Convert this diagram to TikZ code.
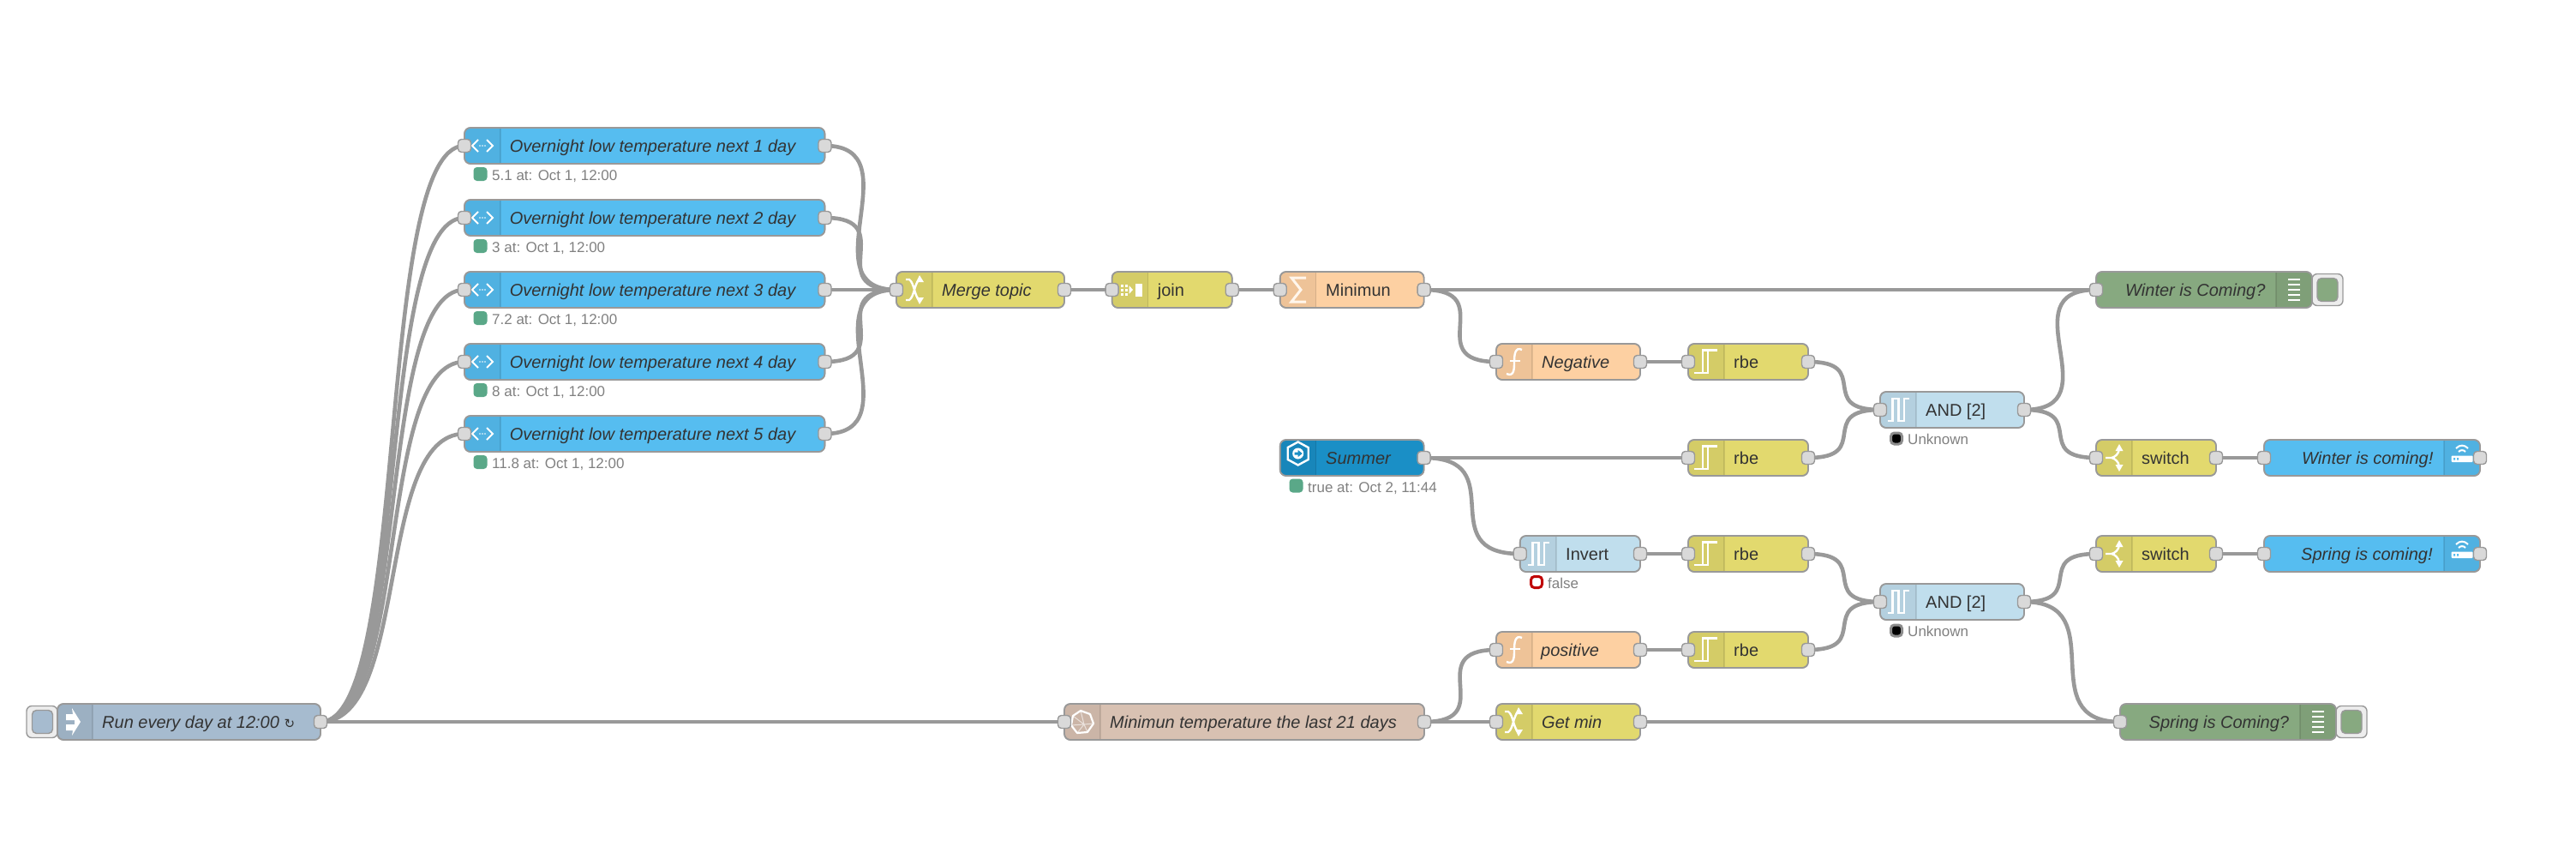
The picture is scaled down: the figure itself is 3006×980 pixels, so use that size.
\documentclass[tikz,border=0pt]{standalone}
\usepackage{fontspec}
\setmainfont{Liberation Sans}
\newfontfamily\symbfont{DejaVu Sans}
\usetikzlibrary{calc}
\pgfdeclarelayer{wires}
\pgfsetlayers{wires,main}
\definecolor{cblue}{HTML}{56BDF0}
\definecolor{cyel}{HTML}{E2D96E}
\definecolor{corg}{HTML}{FDD0A2}
\definecolor{cand}{HTML}{C0DEED}
\definecolor{cdbg}{HTML}{87A980}
\definecolor{cinj}{HTML}{A6BBCF}
\definecolor{cbrn}{HTML}{D8C1B2}
\definecolor{csum}{HTML}{1A8FC6}
\definecolor{cwire}{HTML}{999999}
\definecolor{cgrn}{HTML}{5AA888}
\definecolor{ctxt}{HTML}{333333}
\tikzset{
  wire/.style={draw=cwire,line width=4.6pt},
  flowbody/.style={draw=cwire,line width=1.6pt,rounded corners=7pt,inner sep=0pt,outer sep=0pt,minimum height=42pt},
  port/.style={draw=cwire,fill=black!15,line width=1.4pt,rounded corners=4pt,inner sep=0pt,minimum width=15pt,minimum height=15pt},
  lab/.style={anchor=base west,inner sep=0pt,text=ctxt,font=\fontsize{20}{24}\selectfont},
  labit/.style={lab,font=\fontsize{20}{24}\selectfont\itshape},
  stat/.style={anchor=base west,inner sep=0pt,text=black!50,font=\fontsize{17}{20}\selectfont},
  statdot/.style={inner sep=0pt,minimum width=16pt,minimum height=16pt,rounded corners=4pt,fill=cgrn},
  btnouter/.style={draw=cwire,fill=black!7,line width=1.4pt,rounded corners=6pt,inner sep=0pt,outer sep=0pt,minimum height=37pt,minimum width=36pt},
  btninner/.style={draw=cwire,line width=1.4pt,rounded corners=5pt,inner sep=0pt,minimum width=24pt,minimum height=27pt},
  ico/.style={draw=white,line width=2.6pt,line join=miter},
  icofill/.style={fill=white,draw=none},
}
% name, x1, x2, cy, panel from, panel to, colour
\newcommand\flow[7]{%
  \node[flowbody,fill=#7,minimum width={(#3-#2)*1pt}] (#1) at ({(#2+#3)/2},#4) {};
  \begin{scope}
    \clip[rounded corners=7pt] (#2,#4-21) rectangle (#3,#4+21);
    \fill[black,opacity=.06] (#5,#4-21) rectangle (#6,#4+21);
    \draw[black,opacity=.1,line width=1.3pt] ({#5==#2?#6:#5},#4-21) -- ++(0,42);
  \end{scope}
  \draw[cwire,line width=1.6pt,rounded corners=7pt] (#2,#4-21) rectangle (#3,#4+21);
}
\newcommand\pin[1]{\node[port] (#1-in) at (#1.west) {};}
\newcommand\pout[1]{\node[port] (#1-out) at (#1.east) {};}
\newcommand\wire[2]{\draw[wire] let \p1=(#1-out.center),\p2=(#2-in.center),
  \n1={veclen(\x2-\x1,\y2-\y1)},\n2={0.75*min(\n1,140pt)} in
  (\p1) .. controls (\x1+\n2,\y1) and (\x2-\n2,\y2) .. (\p2);}
% icons: centre x, centre y
\newcommand\icoinject[2]{\begin{scope}[shift={(#1,#2)}]
  \fill[icofill] (-9,-9) -- (-1,-9) -- (-2,-16) -- (8,0) -- (-2,16) -- (-1,10) -- (-9,10) -- (-9,3) -- (1,3) -- (1,-2) -- (-9,-2) -- cycle;
\end{scope}}
\newcommand\icohttp[2]{\begin{scope}[shift={(#1,#2)}]
  \draw[ico,line width=2pt] (-5,-7) -- (-12,0) -- (-5,7) (5,-7) -- (12,0) -- (5,7);
  \foreach \d in {-3,0,3} \fill[white] (\d,0) circle (.9);
\end{scope}}
\newcommand\icoshuffle[2]{\begin{scope}[shift={(#1,#2)}]
  \draw[ico,line width=2.4pt] (-10,-12) -- (-6,-12) .. controls (0,-8) and (0,8) .. (6,12) (-10,12) -- (-6,12) .. controls (0,8) and (0,-8) .. (6,-12);
  \fill[icofill] (6,-17) -- (11,-9) -- (2,-9) -- cycle (6,17) -- (11,9) -- (2,9) -- cycle;
\end{scope}}
\newcommand\icojoin[2]{\begin{scope}[shift={(#1,#2)}]
  \foreach \a in {-12,-7} \foreach \b in {-6,-1,4} \fill[white] (\a,\b) rectangle ++(3,3);
  \fill[icofill] (-2.5,-5) -- (2,0) -- (-2.5,5) -- cycle;
  \fill[icofill] (5,-7.5) rectangle (12.5,7.5);
\end{scope}}
\newcommand\icosigma[2]{\begin{scope}[shift={(#1,#2)}]
  \draw[ico,line width=3pt,draw=white!80!corg] (9,-14) -- (-8,-14) -- (3,0) -- (-8,14) -- (9,14);
\end{scope}}
\newcommand\icofunc[2]{\begin{scope}[shift={(#1,#2)}]
  \draw[ico,line width=2.4pt] (9,-14) .. controls (1,-18) and (0,-8) .. (0,0) .. controls (0,8) and (0,18) .. (-9,14);
  \draw[ico,line width=2pt] (-5,-1) -- (7,-1);
\end{scope}}
\newcommand\icorbe[2]{\begin{scope}[shift={(#1,#2)}]
  \draw[ico,line width=2.2pt] (-13.5,13) -- (3.3,13) -- (3.3,-13.5) -- (14.3,-13.5) (-3.3,13) -- (-3.3,-13.5) -- (3.3,-13.5);
\end{scope}}
\newcommand\icopulse[2]{\begin{scope}[shift={(#1,#2)}]
  \draw[ico,line width=2.4pt] (-12.5,13) -- (-6.7,13) -- (-6.7,-13) -- (0.5,-13) -- (0.5,13) -- (6.7,13) -- (6.7,-13) -- (12.5,-13);
\end{scope}}
\newcommand\icohex[2]{\begin{scope}[shift={(#1,#2)}]
  \draw[ico,line width=2.4pt] (0,-13.5) -- (12,-7) -- (12,7) -- (0,13.5) -- (-12,7) -- (-12,-7) -- cycle;
  \fill[icofill] (0,0) circle (6.5);
  \fill[csum] (-4,-1.5) rectangle (0,1.5) (0,-4) -- (5,0) -- (0,4) -- cycle;
\end{scope}}
\newcommand\icopoly[2]{\begin{scope}[shift={(#1,#2)}]
  \draw[ico,line width=2.2pt,line join=round] (-2,-13) -- (9,-9) -- (13,2) -- (6,12) -- (-6,13) -- (-13,4) -- (-11,-7) -- cycle;
  \draw[white,opacity=.6,line width=1pt] (-2,-13) -- (2,3) -- (13,2) (2,3) -- (-13,4) (2,3) -- (6,12) (-11,-7) -- (2,3) (-6,13) -- (2,3);
\end{scope}}
\newcommand\icodebug[2]{\begin{scope}[shift={(#1,#2)}]
  \foreach \b in {-12,-6,0,6,12} \draw[white,line width=2pt] (-7,\b) -- (7,\b);
\end{scope}}
\newcommand\icoswitch[2]{\begin{scope}[shift={(#1,#2)}]
  \draw[ico,line width=2.4pt] (-10,0) -- (-3,0) .. controls (1,-1) and (5,-4) .. (6,-10) (-3,0) .. controls (1,1) and (5,4) .. (6,10);
  \fill[icofill] (6,-16) -- (10.5,-8) -- (1.5,-8) -- cycle (6,16) -- (10.5,8) -- (1.5,8) -- cycle;
\end{scope}}
\newcommand\icowifi[2]{\begin{scope}[shift={(#1,#2)}]
  \fill[white,rounded corners=1pt] (-12.5,-2.5) rectangle (12.5,5);
  \fill[cblue] (-10,0) rectangle (-8,2.5) (-6,0) rectangle (-4,2.5);
  \draw[white,line width=2pt] (-7,-11) .. controls (-3,-15.5) and (3,-15.5) .. (7,-11);
  \draw[white,line width=2pt] (-4,-7) .. controls (-2,-9.5) and (2,-9.5) .. (4,-7);
\end{scope}}
\begin{document}
\begin{tikzpicture}[x=1pt,y=-1pt]
\useasboundingbox (0,0) rectangle (3006,980);

% inject
\node[btnouter] (runbtn) at (49,842) {};
\node[btninner,fill=cinj] (runbtnin) at (49.5,842) {};
\flow{run}{67}{374}{842}{67}{108}{cinj}
\node[labit] (runlab) at (119,849) {Run every day at 12:00 {\symbfont\upshape\fontsize{15}{18}\selectfont ↻}};
\icoinject{86}{842}
\pout{run}

% http nodes
\foreach \nm/\cy/\v/\k in {o1/170/5.1/1,o2/254/3/2,o3/338/7.2/3,o4/422/8/4,o5/506/11.8/5}{
  \flow{\nm}{542}{962.5}{\cy}{542}{584}{cblue}
  \node[labit] (\nm-lab) at (594.6,\cy+7) {Overnight low temperature next \k{} day};
  \icohttp{563}{\cy}
  \pin{\nm}\pout{\nm}
  \node[statdot] (\nm-dot) at (560.5,\cy+33) {};
  \node[stat] (\nm-st) at (574,\cy+40) {\v{} at: Oct 1, 12:00};
}

% merge, join, minimum
\flow{merge}{1046}{1242}{338}{1046}{1088}{cyel}
\node[labit] (mergelab) at (1099,345) {Merge topic};
\icoshuffle{1067}{338}\pin{merge}\pout{merge}

\flow{join}{1297.6}{1437.7}{338}{1297.6}{1339.7}{cyel}
\node[lab] (joinlab) at (1350.6,345) {join};
\icojoin{1320}{338}\pin{join}\pout{join}

\flow{minn}{1493.7}{1661.6}{338}{1493.7}{1535.8}{corg}
\node[lab] (minlab) at (1547,345) {Minimun};
\icosigma{1515}{338}\pin{minn}\pout{minn}

% function nodes
\flow{neg}{1746}{1914}{422}{1746}{1788}{corg}
\node[labit] (neglab) at (1799,429) {Negative};
\icofunc{1767}{422}\pin{neg}\pout{neg}

\flow{pos}{1746}{1914}{758}{1746}{1788}{corg}
\node[labit] (poslab) at (1798,765) {positive};
\icofunc{1767}{758}\pin{pos}\pout{pos}

\flow{gmin}{1746}{1914}{842}{1746}{1788}{cyel}
\node[labit] (gminlab) at (1799,849) {Get min};
\icoshuffle{1766}{842}\pin{gmin}\pout{gmin}

% summer
\flow{summer}{1493.7}{1661.6}{534}{1493.7}{1535.8}{csum}
\node[labit] (sumlab) at (1547,541) {Summer};
\icohex{1514.7}{529}\pout{summer}
\node[statdot] (sumdot) at (1512.5,566.5) {};
\node[stat] (sumst) at (1526,574) {true at: Oct 2, 11:44};

% invert
\flow{inv}{1773.75}{1914}{646}{1773.75}{1816}{cand}
\node[lab] (invlab) at (1827,653) {Invert};
\icopulse{1795}{646}\pin{inv}\pout{inv}
\node[statdot,fill=white,draw=red!75!black,line width=3pt,minimum width=13pt,minimum height=13pt] (invdot) at (1793,679) {};
\node[stat] (invst) at (1806,686) {false};

% rbe
\foreach \nm/\cy in {r1/422,r2/534,r3/646,r4/758}{
  \flow{\nm}{1970}{2110}{\cy}{1970}{2012}{cyel}
  \node[lab] (\nm-lab) at (2023,\cy+7) {rbe};
  \icorbe{1990}{\cy}
  \pin{\nm}\pout{\nm}
}

% AND
\foreach \nm/\cy in {a1/478,a2/702}{
  \flow{\nm}{2194}{2362}{\cy}{2194}{2236}{cand}
  \node[lab] (\nm-lab) at (2247,\cy+7) {AND [2]};
  \icopulse{2215}{\cy}
  \pin{\nm}\pout{\nm}
  \node[statdot,fill=black,draw=black!45,line width=3pt,minimum width=13pt,minimum height=13pt] (\nm-dot) at (2213,\cy+33.5) {};
  \node[stat] (\nm-st) at (2226,\cy+40) {Unknown};
}

% debug
\node[btnouter] (wdbtn) at (2716,338) {};
\node[btninner,fill=cdbg] (wdbtnin) at (2716,338) {};
\flow{wd}{2446}{2698}{338}{2656}{2698}{cdbg}
\node[labit] (wdlab) at (2480,345) {Winter is Coming?};
\icodebug{2677}{338}\pin{wd}

\node[btnouter] (sdbtn) at (2744,842) {};
\node[btninner,fill=cdbg] (sdbtnin) at (2744,842) {};
\flow{sd}{2474}{2726}{842}{2684}{2726}{cdbg}
\node[labit] (sdlab) at (2507.5,849) {Spring is Coming?};
\icodebug{2705}{842}\pin{sd}

% switch
\foreach \nm/\cy in {sw1/534,sw2/646}{
  \flow{\nm}{2446}{2586}{\cy}{2446}{2488}{cyel}
  \node[lab] (\nm-lab) at (2499,\cy+7) {switch};
  \icoswitch{2467}{\cy}
  \pin{\nm}\pout{\nm}
}

% output
\flow{wo}{2642}{2894}{534}{2852}{2894}{cblue}
\node[labit] (wolab) at (2686,541) {Winter is coming!};
\icowifi{2873}{534}\pin{wo}\pout{wo}
\flow{so}{2642}{2894}{646}{2852}{2894}{cblue}
\node[labit] (solab) at (2685,653) {Spring is coming!};
\icowifi{2873}{646}\pin{so}\pout{so}

% temperature history node
\flow{mint}{1242}{1662}{842}{1242}{1284}{cbrn}
\node[labit] (mintlab) at (1295,849) {Minimun temperature the last 21 days};
\icopoly{1263}{842}\pin{mint}\pout{mint}

\begin{pgfonlayer}{wires}
\foreach \nm in {o1,o2,o3,o4,o5}{\wire{run}{\nm}\wire{\nm}{merge}}
\wire{run}{mint}
\wire{merge}{join}
\wire{join}{minn}
\wire{minn}{wd}
\wire{minn}{neg}
\wire{neg}{r1}
\wire{r1}{a1}
\wire{summer}{r2}
\wire{summer}{inv}
\wire{inv}{r3}
\wire{r2}{a1}
\wire{r3}{a2}
\wire{pos}{r4}
\wire{r4}{a2}
\wire{a1}{wd}
\wire{a1}{sw1}
\wire{sw1}{wo}
\wire{a2}{sw2}
\wire{sw2}{so}
\wire{a2}{sd}
\wire{mint}{pos}
\wire{mint}{gmin}
\wire{gmin}{sd}
\end{pgfonlayer}
\end{tikzpicture}
\end{document}
